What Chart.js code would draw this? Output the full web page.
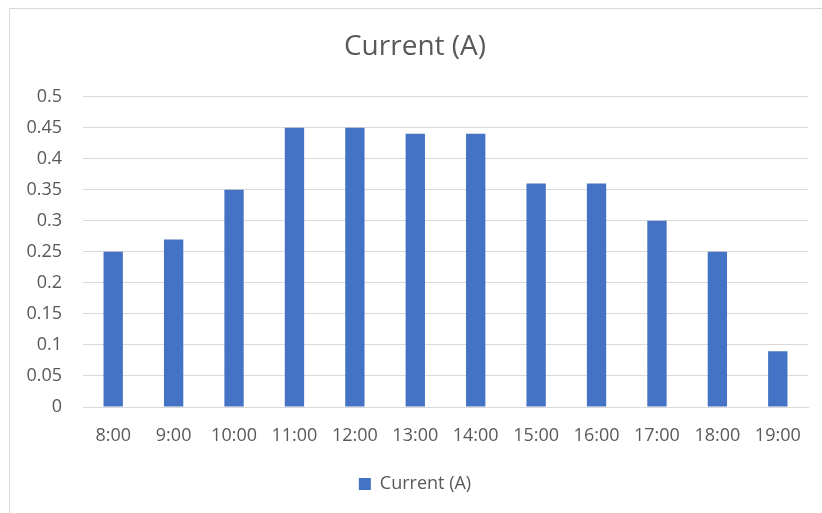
<!DOCTYPE html>
<html>
<head>
<meta charset="utf-8">
<script src="https://cdn.jsdelivr.net/npm/chart.js@4"></script>
<style>
  html, body { margin: 0; padding: 0; background: #fff; }
  #wrap { position: relative; width: 822px; height: 513px; overflow: hidden; }
  #frame { position: absolute; left: 9px; top: 8px; width: 830px; height: 520px; border: 1px solid #d9d9d9; box-sizing: border-box; }
  canvas { position: absolute; left: 0; top: 0; }
</style>
</head>
<body>
<div id="wrap">
  <div id="frame"></div>
  <canvas id="c" width="822" height="513"></canvas>
</div>
<script>
const categories = ["8:00","9:00","10:00","11:00","12:00","13:00","14:00","15:00","16:00","17:00","18:00","19:00"];
const currentValues = [0.25, 0.27, 0.35, 0.45, 0.45, 0.44, 0.44, 0.36, 0.36, 0.30, 0.25, 0.09];
const seriesName = "Current (A)";
const chartTitle = "Current (A)";

const FONT = "'Open Sans', 'Noto Sans', sans-serif";
const TXT = "#595959";

new Chart(document.getElementById('c'), {
  type: 'bar',
  data: {
    labels: categories,
    datasets: [{
      label: seriesName,
      data: currentValues,
      backgroundColor: '#4472C4',
      borderWidth: 0,
      barPercentage: 0.32,
      categoryPercentage: 1.0
    }]
  },
  options: {
    responsive: false,
    animation: false,
    devicePixelRatio: 1,
    layout: { padding: { left: 22, right: 14, top: 0, bottom: 10 } },
    plugins: {
      title: {
        display: true,
        text: chartTitle,
        color: TXT,
        font: { family: FONT, size: 28, weight: 'normal' },
        padding: { top: 30, bottom: 33 }
      },
      legend: {
        display: true,
        position: 'bottom',
        labels: {
          color: TXT,
          font: { family: FONT, size: 18 },
          boxWidth: 12,
          boxHeight: 12,
          padding: 10
        }
      },
      tooltip: { enabled: false }
    },
    scales: {
      x: {
        grid: { display: false, drawTicks: false },
        border: { display: true, color: '#d9d9d9', width: 1 },
        ticks: { color: TXT, font: { family: FONT, size: 18 }, padding: 18, maxRotation: 0 },
        afterFit: (s) => { s.height = 58; }
      },
      y: {
        min: 0,
        max: 0.5,
        grid: { color: '#d9d9d9', drawTicks: false },
        border: { display: false },
        ticks: {
          stepSize: 0.05,
          color: TXT,
          font: { family: FONT, size: 18 },
          padding: 21,
          callback: (v) => String(Math.round(v * 100) / 100)
        },
        afterFit: (s) => { s.width = 61; }
      }
    }
  }
});
</script>
</body>
</html>
